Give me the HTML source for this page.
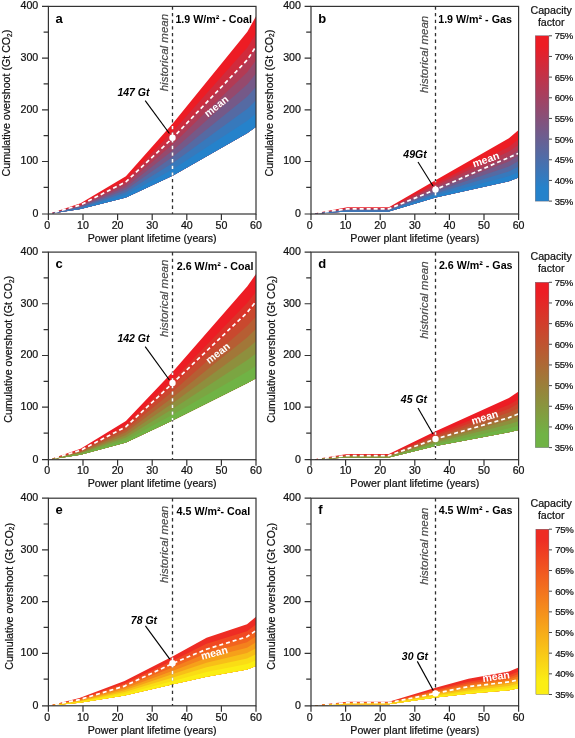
<!DOCTYPE html>
<html><head><meta charset="utf-8"><title>Cumulative overshoot</title>
<style>html,body{margin:0;padding:0;background:#fff;}svg{display:block;will-change:transform;filter:opacity(1);}text{font-family:"Liberation Sans",sans-serif;}</style>
</head><body>
<svg width="575" height="738" viewBox="0 0 575 738">
<rect x="0" y="0" width="575" height="738" fill="#ffffff"/>
<defs>
<linearGradient id="g0" x1="0" y1="0" x2="0" y2="1"><stop offset="0" stop-color="#ed1c24"/><stop offset="0.06" stop-color="#ed1c24"/><stop offset="0.92" stop-color="#2582cb"/><stop offset="1" stop-color="#2582cb"/></linearGradient>
<linearGradient id="g1" x1="0" y1="0" x2="0" y2="1"><stop offset="0" stop-color="#ed1c24"/><stop offset="0.06" stop-color="#ed1c24"/><stop offset="0.92" stop-color="#70b345"/><stop offset="1" stop-color="#70b345"/></linearGradient>
<linearGradient id="g2" x1="0" y1="0" x2="0" y2="1"><stop offset="0" stop-color="#ee2c24"/><stop offset="0.06" stop-color="#ee2c24"/><stop offset="0.92" stop-color="#fbee14"/><stop offset="1" stop-color="#fbee14"/></linearGradient>
</defs>
<g id="panel-a">
<polygon points="48.40,214.00 80.58,203.36 125.90,176.37 172.96,123.17 247.35,31.83 256.00,16.26 256.00,126.81 247.35,133.04 172.96,175.59 125.90,197.39 80.58,209.07 48.40,214.00" fill="#ed1c24"/>
<polygon points="48.40,214.00 80.58,204.25 125.90,179.65 172.96,131.35 247.35,47.62 256.00,33.51 256.00,126.81 247.35,133.04 172.96,175.59 125.90,197.39 80.58,209.07 48.40,214.00" fill="#d02b3c"/>
<polygon points="48.40,214.00 80.58,204.94 125.90,182.19 172.96,137.67 247.35,59.82 256.00,46.84 256.00,126.81 247.35,133.04 172.96,175.59 125.90,197.39 80.58,209.07 48.40,214.00" fill="#b33a54"/>
<polygon points="48.40,214.00 80.58,205.63 125.90,184.72 172.96,143.99 247.35,72.02 256.00,60.16 256.00,126.81 247.35,133.04 172.96,175.59 125.90,197.39 80.58,209.07 48.40,214.00" fill="#95496d"/>
<polygon points="48.40,214.00 80.58,206.32 125.90,187.25 172.96,150.31 247.35,84.23 256.00,73.49 256.00,126.81 247.35,133.04 172.96,175.59 125.90,197.39 80.58,209.07 48.40,214.00" fill="#755988"/>
<polygon points="48.40,214.00 80.58,207.00 125.90,189.79 172.96,156.63 247.35,96.43 256.00,86.82 256.00,126.81 247.35,133.04 172.96,175.59 125.90,197.39 80.58,209.07 48.40,214.00" fill="#556aa3"/>
<polygon points="48.40,214.00 80.58,207.69 125.90,192.32 172.96,162.95 247.35,108.63 256.00,100.15 256.00,126.81 247.35,133.04 172.96,175.59 125.90,197.39 80.58,209.07 48.40,214.00" fill="#3779bc"/>
<polygon points="48.40,214.00 80.58,208.38 125.90,194.86 172.96,169.27 247.35,120.83 256.00,113.48 256.00,126.81 247.35,133.04 172.96,175.59 125.90,197.39 80.58,209.07 48.40,214.00" fill="#2582cb"/>
<line x1="172.50" y1="6.40" x2="172.50" y2="214.00" stroke="#303030" stroke-width="1.3" stroke-dasharray="3.3 3.34"/>
<line x1="172.50" y1="124.17" x2="172.50" y2="175.59" stroke="#fff" stroke-width="1.6" stroke-dasharray="3.3 3.34" stroke-dashoffset="4.89"/>
<polyline points="48.40,214.00 80.58,204.92 125.90,181.82 172.96,137.71 247.35,59.86 256.00,46.36" fill="none" stroke="#fff" stroke-width="1.7" stroke-dasharray="4 3"/>
<rect x="48.40" y="6.40" width="207.60" height="207.60" fill="none" stroke="#333333" stroke-width="1.2"/>
<path d="M42.00 214.00H48.40M43.60 187.37H48.40M42.00 161.51H48.40M43.60 135.65H48.40M42.00 109.79H48.40M43.60 83.93H48.40M42.00 58.07H48.40M43.60 32.21H48.40M42.00 6.35H48.40M48.40 214.00V220.00M83.00 214.00V220.00M117.60 214.00V220.00M152.20 214.00V220.00M186.80 214.00V220.00M221.40 214.00V220.00M256.00 214.00V220.00" stroke="#333333" stroke-width="1.2" fill="none"/>
<circle cx="172.50" cy="137.71" r="3.2" fill="#fff"/>
<line x1="145.2" y1="100.6" x2="169.4" y2="133.5" stroke="#000" stroke-width="1.15"/>
<text x="133.5" y="96.2" font-size="10.5" font-weight="bold" font-style="italic" text-anchor="middle" fill="#000">147 Gt</text>
<text transform="translate(218.5 109) rotate(-38)" font-size="10.5" font-weight="bold" text-anchor="middle" fill="#fff">mean</text>
<text transform="translate(167.70 52.60) rotate(-90)" font-size="11.5" font-style="italic" text-anchor="middle" fill="#4a4a4a" stroke="#4a4a4a" stroke-width="0.2">historical mean</text>
<text x="175.40" y="23.00" font-size="10.7" font-weight="bold" fill="#000">1.9 W/m² - Coal</text>
<text x="55.60" y="22.60" font-size="13" font-weight="bold" fill="#000">a</text>
<text x="38.30" y="216.90" font-size="10.65" text-anchor="end" fill="#111" stroke="#111" stroke-width="0.22">0</text>
<text x="38.30" y="164.41" font-size="10.65" text-anchor="end" fill="#111" stroke="#111" stroke-width="0.22">100</text>
<text x="38.30" y="112.69" font-size="10.65" text-anchor="end" fill="#111" stroke="#111" stroke-width="0.22">200</text>
<text x="38.30" y="60.97" font-size="10.65" text-anchor="end" fill="#111" stroke="#111" stroke-width="0.22">300</text>
<text x="38.30" y="9.25" font-size="10.65" text-anchor="end" fill="#111" stroke="#111" stroke-width="0.22">400</text>
<text x="47.10" y="228.70" font-size="10.65" text-anchor="middle" fill="#111" stroke="#111" stroke-width="0.22">0</text>
<text x="83.00" y="228.70" font-size="10.65" text-anchor="middle" fill="#111" stroke="#111" stroke-width="0.22">10</text>
<text x="117.60" y="228.70" font-size="10.65" text-anchor="middle" fill="#111" stroke="#111" stroke-width="0.22">20</text>
<text x="152.20" y="228.70" font-size="10.65" text-anchor="middle" fill="#111" stroke="#111" stroke-width="0.22">30</text>
<text x="186.80" y="228.70" font-size="10.65" text-anchor="middle" fill="#111" stroke="#111" stroke-width="0.22">40</text>
<text x="221.40" y="228.70" font-size="10.65" text-anchor="middle" fill="#111" stroke="#111" stroke-width="0.22">50</text>
<text x="256.00" y="228.70" font-size="10.65" text-anchor="middle" fill="#111" stroke="#111" stroke-width="0.22">60</text>
<text x="152.20" y="241.70" font-size="10.65" text-anchor="middle" fill="#111" stroke="#111" stroke-width="0.22">Power plant lifetime (years)</text>
<text transform="translate(10.00 103.10) rotate(-90)" font-size="10.65" text-anchor="middle" fill="#111" stroke="#111" stroke-width="0.22">Cumulative overshoot (Gt CO<tspan font-size="6.4" dy="1.6">2</tspan><tspan dy="-1.6">)</tspan></text>
</g>
<g id="panel-b">
<polygon points="311.00,214.00 347.33,207.25 388.85,207.25 435.56,180.26 508.91,138.23 518.60,129.92 518.60,177.41 508.91,181.30 435.56,197.39 388.85,211.41 347.33,211.41 311.00,214.00" fill="#ed1c24"/>
<polygon points="311.00,214.00 347.33,208.06 388.85,208.06 435.56,183.60 508.91,146.63 518.60,139.18 518.60,177.41 508.91,181.30 435.56,197.39 388.85,211.41 347.33,211.41 311.00,214.00" fill="#d02b3c"/>
<polygon points="311.00,214.00 347.33,208.54 388.85,208.54 435.56,185.57 508.91,151.58 518.60,144.64 518.60,177.41 508.91,181.30 435.56,197.39 388.85,211.41 347.33,211.41 311.00,214.00" fill="#b33a54"/>
<polygon points="311.00,214.00 347.33,209.02 388.85,209.02 435.56,187.54 508.91,156.53 518.60,150.10 518.60,177.41 508.91,181.30 435.56,197.39 388.85,211.41 347.33,211.41 311.00,214.00" fill="#95496d"/>
<polygon points="311.00,214.00 347.33,209.50 388.85,209.50 435.56,189.51 508.91,161.49 518.60,155.57 518.60,177.41 508.91,181.30 435.56,197.39 388.85,211.41 347.33,211.41 311.00,214.00" fill="#755988"/>
<polygon points="311.00,214.00 347.33,209.97 388.85,209.97 435.56,191.48 508.91,166.44 518.60,161.03 518.60,177.41 508.91,181.30 435.56,197.39 388.85,211.41 347.33,211.41 311.00,214.00" fill="#556aa3"/>
<polygon points="311.00,214.00 347.33,210.45 388.85,210.45 435.56,193.45 508.91,171.40 518.60,166.49 518.60,177.41 508.91,181.30 435.56,197.39 388.85,211.41 347.33,211.41 311.00,214.00" fill="#3779bc"/>
<polygon points="311.00,214.00 347.33,210.93 388.85,210.93 435.56,195.42 508.91,176.35 518.60,171.95 518.60,177.41 508.91,181.30 435.56,197.39 388.85,211.41 347.33,211.41 311.00,214.00" fill="#2582cb"/>
<line x1="435.50" y1="6.40" x2="435.50" y2="214.00" stroke="#303030" stroke-width="1.3" stroke-dasharray="3.3 3.34"/>
<line x1="435.50" y1="181.26" x2="435.50" y2="197.39" stroke="#fff" stroke-width="1.6" stroke-dasharray="3.3 3.34" stroke-dashoffset="2.22"/>
<polyline points="311.00,214.00 347.33,208.81 388.85,208.81 435.56,189.61 508.91,157.43 518.60,153.28" fill="none" stroke="#fff" stroke-width="1.7" stroke-dasharray="4 3"/>
<rect x="311.00" y="6.40" width="207.60" height="207.60" fill="none" stroke="#333333" stroke-width="1.2"/>
<path d="M304.60 214.00H311.00M306.20 187.37H311.00M304.60 161.51H311.00M306.20 135.65H311.00M304.60 109.79H311.00M306.20 83.93H311.00M304.60 58.07H311.00M306.20 32.21H311.00M304.60 6.35H311.00M311.00 214.00V220.00M345.60 214.00V220.00M380.20 214.00V220.00M414.80 214.00V220.00M449.40 214.00V220.00M484.00 214.00V220.00M518.60 214.00V220.00" stroke="#333333" stroke-width="1.2" fill="none"/>
<circle cx="435.50" cy="189.61" r="3.2" fill="#fff"/>
<line x1="418" y1="162" x2="433" y2="186" stroke="#000" stroke-width="1.15"/>
<text x="415" y="158" font-size="10.5" font-weight="bold" font-style="italic" text-anchor="middle" fill="#000">49Gt</text>
<text transform="translate(487 163) rotate(-19)" font-size="10.5" font-weight="bold" text-anchor="middle" fill="#fff">mean</text>
<text transform="translate(427.70 54.40) rotate(-90)" font-size="11.5" font-style="italic" text-anchor="middle" fill="#4a4a4a" stroke="#4a4a4a" stroke-width="0.2">historical mean</text>
<text x="438.20" y="22.80" font-size="10.7" font-weight="bold" fill="#000">1.9 W/m² - Gas</text>
<text x="318.20" y="22.60" font-size="13" font-weight="bold" fill="#000">b</text>
<text x="300.90" y="216.90" font-size="10.65" text-anchor="end" fill="#111" stroke="#111" stroke-width="0.22">0</text>
<text x="300.90" y="164.41" font-size="10.65" text-anchor="end" fill="#111" stroke="#111" stroke-width="0.22">100</text>
<text x="300.90" y="112.69" font-size="10.65" text-anchor="end" fill="#111" stroke="#111" stroke-width="0.22">200</text>
<text x="300.90" y="60.97" font-size="10.65" text-anchor="end" fill="#111" stroke="#111" stroke-width="0.22">300</text>
<text x="300.90" y="9.25" font-size="10.65" text-anchor="end" fill="#111" stroke="#111" stroke-width="0.22">400</text>
<text x="309.70" y="228.70" font-size="10.65" text-anchor="middle" fill="#111" stroke="#111" stroke-width="0.22">0</text>
<text x="345.60" y="228.70" font-size="10.65" text-anchor="middle" fill="#111" stroke="#111" stroke-width="0.22">10</text>
<text x="380.20" y="228.70" font-size="10.65" text-anchor="middle" fill="#111" stroke="#111" stroke-width="0.22">20</text>
<text x="414.80" y="228.70" font-size="10.65" text-anchor="middle" fill="#111" stroke="#111" stroke-width="0.22">30</text>
<text x="449.40" y="228.70" font-size="10.65" text-anchor="middle" fill="#111" stroke="#111" stroke-width="0.22">40</text>
<text x="484.00" y="228.70" font-size="10.65" text-anchor="middle" fill="#111" stroke="#111" stroke-width="0.22">50</text>
<text x="518.60" y="228.70" font-size="10.65" text-anchor="middle" fill="#111" stroke="#111" stroke-width="0.22">60</text>
<text x="414.80" y="241.70" font-size="10.65" text-anchor="middle" fill="#111" stroke="#111" stroke-width="0.22">Power plant lifetime (years)</text>
<text transform="translate(272.60 103.10) rotate(-90)" font-size="10.65" text-anchor="middle" fill="#111" stroke="#111" stroke-width="0.22">Cumulative overshoot (Gt CO<tspan font-size="6.4" dy="1.6">2</tspan><tspan dy="-1.6">)</tspan></text>
</g>
<g id="panel-c">
<polygon points="48.40,459.70 80.58,448.80 125.90,421.03 172.96,371.47 247.35,286.35 256.00,273.90 256.00,378.22 247.35,382.89 172.96,420.26 125.90,442.57 80.58,454.77 48.40,459.70" fill="#ed1c24"/>
<polygon points="48.40,459.70 80.58,449.82 125.90,424.72 172.96,379.81 247.35,302.86 256.00,291.74 256.00,378.22 247.35,382.89 172.96,420.26 125.90,442.57 80.58,454.77 48.40,459.70" fill="#db3229"/>
<polygon points="48.40,459.70 80.58,450.53 125.90,427.27 172.96,385.59 247.35,314.29 256.00,304.09 256.00,378.22 247.35,382.89 172.96,420.26 125.90,442.57 80.58,454.77 48.40,459.70" fill="#c9482e"/>
<polygon points="48.40,459.70 80.58,451.24 125.90,429.82 172.96,391.37 247.35,325.73 256.00,316.45 256.00,378.22 247.35,382.89 172.96,420.26 125.90,442.57 80.58,454.77 48.40,459.70" fill="#b65e33"/>
<polygon points="48.40,459.70 80.58,451.94 125.90,432.37 172.96,397.15 247.35,337.16 256.00,328.80 256.00,378.22 247.35,382.89 172.96,420.26 125.90,442.57 80.58,454.77 48.40,459.70" fill="#a27738"/>
<polygon points="48.40,459.70 80.58,452.65 125.90,434.92 172.96,402.92 247.35,348.59 256.00,341.15 256.00,378.22 247.35,382.89 172.96,420.26 125.90,442.57 80.58,454.77 48.40,459.70" fill="#8e8f3d"/>
<polygon points="48.40,459.70 80.58,453.36 125.90,437.47 172.96,408.70 247.35,360.02 256.00,353.51 256.00,378.22 247.35,382.89 172.96,420.26 125.90,442.57 80.58,454.77 48.40,459.70" fill="#7ba542"/>
<polygon points="48.40,459.70 80.58,454.06 125.90,440.02 172.96,414.48 247.35,371.46 256.00,365.86 256.00,378.22 247.35,382.89 172.96,420.26 125.90,442.57 80.58,454.77 48.40,459.70" fill="#70b345"/>
<line x1="172.50" y1="252.10" x2="172.50" y2="459.70" stroke="#303030" stroke-width="1.3" stroke-dasharray="3.3 3.34"/>
<line x1="172.50" y1="372.47" x2="172.50" y2="420.26" stroke="#fff" stroke-width="1.6" stroke-dasharray="3.3 3.34" stroke-dashoffset="0.85"/>
<polyline points="48.40,459.70 80.58,450.36 125.90,426.74 172.96,382.89 247.35,312.30 256.00,301.40" fill="none" stroke="#fff" stroke-width="1.7" stroke-dasharray="4 3"/>
<rect x="48.40" y="252.10" width="207.60" height="207.60" fill="none" stroke="#333333" stroke-width="1.2"/>
<path d="M42.00 459.70H48.40M43.60 433.07H48.40M42.00 407.21H48.40M43.60 381.35H48.40M42.00 355.49H48.40M43.60 329.63H48.40M42.00 303.77H48.40M43.60 277.91H48.40M42.00 252.05H48.40M48.40 459.70V465.70M83.00 459.70V465.70M117.60 459.70V465.70M152.20 459.70V465.70M186.80 459.70V465.70M221.40 459.70V465.70M256.00 459.70V465.70" stroke="#333333" stroke-width="1.2" fill="none"/>
<circle cx="172.50" cy="382.89" r="3.2" fill="#fff"/>
<line x1="145.2" y1="346.6" x2="169.4" y2="380" stroke="#000" stroke-width="1.15"/>
<text x="133.5" y="342.2" font-size="10.5" font-weight="bold" font-style="italic" text-anchor="middle" fill="#000">142 Gt</text>
<text transform="translate(220 355.9) rotate(-38)" font-size="10.5" font-weight="bold" text-anchor="middle" fill="#fff">mean</text>
<text transform="translate(167.70 298.30) rotate(-90)" font-size="11.5" font-style="italic" text-anchor="middle" fill="#4a4a4a" stroke="#4a4a4a" stroke-width="0.2">historical mean</text>
<text x="176.80" y="270.30" font-size="10.7" font-weight="bold" fill="#000">2.6 W/m² - Coal</text>
<text x="55.60" y="268.30" font-size="13" font-weight="bold" fill="#000">c</text>
<text x="38.30" y="462.60" font-size="10.65" text-anchor="end" fill="#111" stroke="#111" stroke-width="0.22">0</text>
<text x="38.30" y="410.11" font-size="10.65" text-anchor="end" fill="#111" stroke="#111" stroke-width="0.22">100</text>
<text x="38.30" y="358.39" font-size="10.65" text-anchor="end" fill="#111" stroke="#111" stroke-width="0.22">200</text>
<text x="38.30" y="306.67" font-size="10.65" text-anchor="end" fill="#111" stroke="#111" stroke-width="0.22">300</text>
<text x="38.30" y="254.95" font-size="10.65" text-anchor="end" fill="#111" stroke="#111" stroke-width="0.22">400</text>
<text x="47.10" y="474.40" font-size="10.65" text-anchor="middle" fill="#111" stroke="#111" stroke-width="0.22">0</text>
<text x="83.00" y="474.40" font-size="10.65" text-anchor="middle" fill="#111" stroke="#111" stroke-width="0.22">10</text>
<text x="117.60" y="474.40" font-size="10.65" text-anchor="middle" fill="#111" stroke="#111" stroke-width="0.22">20</text>
<text x="152.20" y="474.40" font-size="10.65" text-anchor="middle" fill="#111" stroke="#111" stroke-width="0.22">30</text>
<text x="186.80" y="474.40" font-size="10.65" text-anchor="middle" fill="#111" stroke="#111" stroke-width="0.22">40</text>
<text x="221.40" y="474.40" font-size="10.65" text-anchor="middle" fill="#111" stroke="#111" stroke-width="0.22">50</text>
<text x="256.00" y="474.40" font-size="10.65" text-anchor="middle" fill="#111" stroke="#111" stroke-width="0.22">60</text>
<text x="152.20" y="487.40" font-size="10.65" text-anchor="middle" fill="#111" stroke="#111" stroke-width="0.22">Power plant lifetime (years)</text>
<text transform="translate(12.30 349.30) rotate(-90)" font-size="10.65" text-anchor="middle" fill="#111" stroke="#111" stroke-width="0.22">Cumulative overshoot (Gt CO<tspan font-size="6.4" dy="1.6">2</tspan><tspan dy="-1.6">)</tspan></text>
</g>
<g id="panel-d">
<polygon points="311.00,459.70 347.33,453.99 388.85,453.99 435.56,431.15 508.91,397.94 518.60,391.45 518.60,430.12 508.91,432.19 435.56,445.95 388.85,457.62 347.33,457.62 311.00,459.70" fill="#ed1c24"/>
<polygon points="311.00,459.70 347.33,454.72 388.85,454.72 435.56,434.11 508.91,404.79 518.60,399.18 518.60,430.12 508.91,432.19 435.56,445.95 388.85,457.62 347.33,457.62 311.00,459.70" fill="#db3229"/>
<polygon points="311.00,459.70 347.33,455.13 388.85,455.13 435.56,435.80 508.91,408.70 518.60,403.60 518.60,430.12 508.91,432.19 435.56,445.95 388.85,457.62 347.33,457.62 311.00,459.70" fill="#c9482e"/>
<polygon points="311.00,459.70 347.33,455.55 388.85,455.55 435.56,437.49 508.91,412.62 518.60,408.02 518.60,430.12 508.91,432.19 435.56,445.95 388.85,457.62 347.33,457.62 311.00,459.70" fill="#b65e33"/>
<polygon points="311.00,459.70 347.33,455.96 388.85,455.96 435.56,439.18 508.91,416.53 518.60,412.44 518.60,430.12 508.91,432.19 435.56,445.95 388.85,457.62 347.33,457.62 311.00,459.70" fill="#a27738"/>
<polygon points="311.00,459.70 347.33,456.38 388.85,456.38 435.56,440.88 508.91,420.45 518.60,416.86 518.60,430.12 508.91,432.19 435.56,445.95 388.85,457.62 347.33,457.62 311.00,459.70" fill="#8e8f3d"/>
<polygon points="311.00,459.70 347.33,456.79 388.85,456.79 435.56,442.57 508.91,424.36 518.60,421.28 518.60,430.12 508.91,432.19 435.56,445.95 388.85,457.62 347.33,457.62 311.00,459.70" fill="#7ba542"/>
<polygon points="311.00,459.70 347.33,457.21 388.85,457.21 435.56,444.26 508.91,428.28 518.60,425.70 518.60,430.12 508.91,432.19 435.56,445.95 388.85,457.62 347.33,457.62 311.00,459.70" fill="#70b345"/>
<line x1="435.50" y1="252.10" x2="435.50" y2="459.70" stroke="#303030" stroke-width="1.3" stroke-dasharray="3.3 3.34"/>
<line x1="435.50" y1="432.15" x2="435.50" y2="445.95" stroke="#fff" stroke-width="1.6" stroke-dasharray="3.3 3.34" stroke-dashoffset="0.77"/>
<polyline points="311.00,459.70 347.33,455.55 388.85,455.55 435.56,438.94 508.91,417.66 518.60,413.77" fill="none" stroke="#fff" stroke-width="1.7" stroke-dasharray="4 3"/>
<rect x="311.00" y="252.10" width="207.60" height="207.60" fill="none" stroke="#333333" stroke-width="1.2"/>
<path d="M304.60 459.70H311.00M306.20 433.07H311.00M304.60 407.21H311.00M306.20 381.35H311.00M304.60 355.49H311.00M306.20 329.63H311.00M304.60 303.77H311.00M306.20 277.91H311.00M304.60 252.05H311.00M311.00 459.70V465.70M345.60 459.70V465.70M380.20 459.70V465.70M414.80 459.70V465.70M449.40 459.70V465.70M484.00 459.70V465.70M518.60 459.70V465.70" stroke="#333333" stroke-width="1.2" fill="none"/>
<circle cx="435.50" cy="438.94" r="3.2" fill="#fff"/>
<line x1="418" y1="408" x2="433" y2="434" stroke="#000" stroke-width="1.15"/>
<text x="414" y="402.5" font-size="10.5" font-weight="bold" font-style="italic" text-anchor="middle" fill="#000">45 Gt</text>
<text transform="translate(485.8 420.8) rotate(-17)" font-size="10.5" font-weight="bold" text-anchor="middle" fill="#fff">mean</text>
<text transform="translate(427.70 300.10) rotate(-90)" font-size="11.5" font-style="italic" text-anchor="middle" fill="#4a4a4a" stroke="#4a4a4a" stroke-width="0.2">historical mean</text>
<text x="438.90" y="268.70" font-size="10.7" font-weight="bold" fill="#000">2.6 W/m² - Gas</text>
<text x="318.20" y="268.30" font-size="13" font-weight="bold" fill="#000">d</text>
<text x="300.90" y="462.60" font-size="10.65" text-anchor="end" fill="#111" stroke="#111" stroke-width="0.22">0</text>
<text x="300.90" y="410.11" font-size="10.65" text-anchor="end" fill="#111" stroke="#111" stroke-width="0.22">100</text>
<text x="300.90" y="358.39" font-size="10.65" text-anchor="end" fill="#111" stroke="#111" stroke-width="0.22">200</text>
<text x="300.90" y="306.67" font-size="10.65" text-anchor="end" fill="#111" stroke="#111" stroke-width="0.22">300</text>
<text x="300.90" y="254.95" font-size="10.65" text-anchor="end" fill="#111" stroke="#111" stroke-width="0.22">400</text>
<text x="309.70" y="474.40" font-size="10.65" text-anchor="middle" fill="#111" stroke="#111" stroke-width="0.22">0</text>
<text x="345.60" y="474.40" font-size="10.65" text-anchor="middle" fill="#111" stroke="#111" stroke-width="0.22">10</text>
<text x="380.20" y="474.40" font-size="10.65" text-anchor="middle" fill="#111" stroke="#111" stroke-width="0.22">20</text>
<text x="414.80" y="474.40" font-size="10.65" text-anchor="middle" fill="#111" stroke="#111" stroke-width="0.22">30</text>
<text x="449.40" y="474.40" font-size="10.65" text-anchor="middle" fill="#111" stroke="#111" stroke-width="0.22">40</text>
<text x="484.00" y="474.40" font-size="10.65" text-anchor="middle" fill="#111" stroke="#111" stroke-width="0.22">50</text>
<text x="518.60" y="474.40" font-size="10.65" text-anchor="middle" fill="#111" stroke="#111" stroke-width="0.22">60</text>
<text x="414.80" y="487.40" font-size="10.65" text-anchor="middle" fill="#111" stroke="#111" stroke-width="0.22">Power plant lifetime (years)</text>
<text transform="translate(274.90 349.30) rotate(-90)" font-size="10.65" text-anchor="middle" fill="#111" stroke="#111" stroke-width="0.22">Cumulative overshoot (Gt CO<tspan font-size="6.4" dy="1.6">2</tspan><tspan dy="-1.6">)</tspan></text>
</g>
<g id="panel-e">
<polygon points="48.40,705.80 79.54,698.01 124.52,680.89 172.96,656.24 206.52,637.81 247.00,624.32 256.00,616.79 256.00,666.10 247.00,669.47 206.52,676.74 172.96,684.26 124.52,695.42 79.54,702.69 48.40,705.80" fill="#ee2c24"/>
<polygon points="48.40,705.80 79.54,698.74 124.52,683.14 172.96,660.58 206.52,643.84 247.00,631.32 256.00,624.43 256.00,666.10 247.00,669.47 206.52,676.74 172.96,684.26 124.52,695.42 79.54,702.69 48.40,705.80" fill="#f04822"/>
<polygon points="48.40,705.80 79.54,699.30 124.52,684.89 172.96,663.96 206.52,648.54 247.00,636.77 256.00,630.39 256.00,666.10 247.00,669.47 206.52,676.74 172.96,684.26 124.52,695.42 79.54,702.69 48.40,705.80" fill="#f2641f"/>
<polygon points="48.40,705.80 79.54,699.87 124.52,686.65 172.96,667.35 206.52,653.24 247.00,642.22 256.00,636.34 256.00,666.10 247.00,669.47 206.52,676.74 172.96,684.26 124.52,695.42 79.54,702.69 48.40,705.80" fill="#f4811d"/>
<polygon points="48.40,705.80 79.54,700.43 124.52,688.40 172.96,670.73 206.52,657.94 247.00,647.67 256.00,642.29 256.00,666.10 247.00,669.47 206.52,676.74 172.96,684.26 124.52,695.42 79.54,702.69 48.40,705.80" fill="#f6a01a"/>
<polygon points="48.40,705.80 79.54,700.99 124.52,690.16 172.96,674.11 206.52,662.64 247.00,653.12 256.00,648.24 256.00,666.10 247.00,669.47 206.52,676.74 172.96,684.26 124.52,695.42 79.54,702.69 48.40,705.80" fill="#f8bf18"/>
<polygon points="48.40,705.80 79.54,701.56 124.52,691.91 172.96,677.50 206.52,667.34 247.00,658.57 256.00,654.19 256.00,666.10 247.00,669.47 206.52,676.74 172.96,684.26 124.52,695.42 79.54,702.69 48.40,705.80" fill="#fadd15"/>
<polygon points="48.40,705.80 79.54,702.12 124.52,693.67 172.96,680.88 206.52,672.04 247.00,664.02 256.00,660.14 256.00,666.10 247.00,669.47 206.52,676.74 172.96,684.26 124.52,695.42 79.54,702.69 48.40,705.80" fill="#fbee14"/>
<line x1="172.50" y1="498.20" x2="172.50" y2="705.80" stroke="#303030" stroke-width="1.3" stroke-dasharray="3.3 3.34"/>
<line x1="172.50" y1="657.24" x2="172.50" y2="684.26" stroke="#fff" stroke-width="1.6" stroke-dasharray="3.3 3.34" stroke-dashoffset="6.32"/>
<polyline points="48.40,705.80 79.54,699.57 124.52,686.08 172.96,663.24 206.52,649.23 247.00,636.77 256.00,630.54" fill="none" stroke="#fff" stroke-width="1.7" stroke-dasharray="4 3"/>
<rect x="48.40" y="498.20" width="207.60" height="207.60" fill="none" stroke="#333333" stroke-width="1.2"/>
<path d="M42.00 705.80H48.40M43.60 679.17H48.40M42.00 653.31H48.40M43.60 627.45H48.40M42.00 601.59H48.40M43.60 575.73H48.40M42.00 549.87H48.40M43.60 524.01H48.40M42.00 498.15H48.40M48.40 705.80V711.80M83.00 705.80V711.80M117.60 705.80V711.80M152.20 705.80V711.80M186.80 705.80V711.80M221.40 705.80V711.80M256.00 705.80V711.80" stroke="#333333" stroke-width="1.2" fill="none"/>
<circle cx="172.50" cy="663.24" r="3.2" fill="#fff"/>
<line x1="145.4" y1="625.9" x2="169.8" y2="659.2" stroke="#000" stroke-width="1.15"/>
<text x="144" y="623.5" font-size="10.5" font-weight="bold" font-style="italic" text-anchor="middle" fill="#000">78 Gt</text>
<text transform="translate(215.2 656.4) rotate(-14.5)" font-size="10.5" font-weight="bold" text-anchor="middle" fill="#fff">mean</text>
<text transform="translate(167.70 544.40) rotate(-90)" font-size="11.5" font-style="italic" text-anchor="middle" fill="#4a4a4a" stroke="#4a4a4a" stroke-width="0.2">historical mean</text>
<text x="176.60" y="514.80" font-size="10.7" font-weight="bold" fill="#000">4.5 W/m²- Coal</text>
<text x="55.60" y="514.40" font-size="13" font-weight="bold" fill="#000">e</text>
<text x="38.30" y="708.70" font-size="10.65" text-anchor="end" fill="#111" stroke="#111" stroke-width="0.22">0</text>
<text x="38.30" y="656.21" font-size="10.65" text-anchor="end" fill="#111" stroke="#111" stroke-width="0.22">100</text>
<text x="38.30" y="604.49" font-size="10.65" text-anchor="end" fill="#111" stroke="#111" stroke-width="0.22">200</text>
<text x="38.30" y="552.77" font-size="10.65" text-anchor="end" fill="#111" stroke="#111" stroke-width="0.22">300</text>
<text x="38.30" y="501.05" font-size="10.65" text-anchor="end" fill="#111" stroke="#111" stroke-width="0.22">400</text>
<text x="47.10" y="720.50" font-size="10.65" text-anchor="middle" fill="#111" stroke="#111" stroke-width="0.22">0</text>
<text x="83.00" y="720.50" font-size="10.65" text-anchor="middle" fill="#111" stroke="#111" stroke-width="0.22">10</text>
<text x="117.60" y="720.50" font-size="10.65" text-anchor="middle" fill="#111" stroke="#111" stroke-width="0.22">20</text>
<text x="152.20" y="720.50" font-size="10.65" text-anchor="middle" fill="#111" stroke="#111" stroke-width="0.22">30</text>
<text x="186.80" y="720.50" font-size="10.65" text-anchor="middle" fill="#111" stroke="#111" stroke-width="0.22">40</text>
<text x="221.40" y="720.50" font-size="10.65" text-anchor="middle" fill="#111" stroke="#111" stroke-width="0.22">50</text>
<text x="256.00" y="720.50" font-size="10.65" text-anchor="middle" fill="#111" stroke="#111" stroke-width="0.22">60</text>
<text x="152.20" y="733.50" font-size="10.65" text-anchor="middle" fill="#111" stroke="#111" stroke-width="0.22">Power plant lifetime (years)</text>
<text transform="translate(12.70 596.40) rotate(-90)" font-size="10.65" text-anchor="middle" fill="#111" stroke="#111" stroke-width="0.22">Cumulative overshoot (Gt CO<tspan font-size="6.4" dy="1.6">2</tspan><tspan dy="-1.6">)</tspan></text>
</g>
<g id="panel-f">
<polygon points="311.00,705.80 347.33,701.65 388.85,701.65 435.56,687.63 468.43,678.81 508.91,671.55 518.60,667.39 518.60,688.15 508.91,690.23 468.43,693.86 435.56,697.50 388.85,704.24 347.33,704.24 311.00,705.80" fill="#ee2c24"/>
<polygon points="311.00,705.80 347.33,702.17 388.85,702.17 435.56,689.61 468.43,681.82 508.91,675.28 518.60,671.55 518.60,688.15 508.91,690.23 468.43,693.86 435.56,697.50 388.85,704.24 347.33,704.24 311.00,705.80" fill="#f04822"/>
<polygon points="311.00,705.80 347.33,702.46 388.85,702.46 435.56,690.73 468.43,683.54 508.91,677.42 518.60,673.92 518.60,688.15 508.91,690.23 468.43,693.86 435.56,697.50 388.85,704.24 347.33,704.24 311.00,705.80" fill="#f2641f"/>
<polygon points="311.00,705.80 347.33,702.76 388.85,702.76 435.56,691.86 468.43,685.26 508.91,679.55 518.60,676.29 518.60,688.15 508.91,690.23 468.43,693.86 435.56,697.50 388.85,704.24 347.33,704.24 311.00,705.80" fill="#f4811d"/>
<polygon points="311.00,705.80 347.33,703.06 388.85,703.06 435.56,692.99 468.43,686.98 508.91,681.69 518.60,678.66 518.60,688.15 508.91,690.23 468.43,693.86 435.56,697.50 388.85,704.24 347.33,704.24 311.00,705.80" fill="#f6a01a"/>
<polygon points="311.00,705.80 347.33,703.35 388.85,703.35 435.56,694.12 468.43,688.70 508.91,683.82 518.60,681.04 518.60,688.15 508.91,690.23 468.43,693.86 435.56,697.50 388.85,704.24 347.33,704.24 311.00,705.80" fill="#f8bf18"/>
<polygon points="311.00,705.80 347.33,703.65 388.85,703.65 435.56,695.24 468.43,690.42 508.91,685.96 518.60,683.41 518.60,688.15 508.91,690.23 468.43,693.86 435.56,697.50 388.85,704.24 347.33,704.24 311.00,705.80" fill="#fadd15"/>
<polygon points="311.00,705.80 347.33,703.95 388.85,703.95 435.56,696.37 468.43,692.14 508.91,688.09 518.60,685.78 518.60,688.15 508.91,690.23 468.43,693.86 435.56,697.50 388.85,704.24 347.33,704.24 311.00,705.80" fill="#fbee14"/>
<line x1="435.50" y1="498.20" x2="435.50" y2="705.80" stroke="#303030" stroke-width="1.3" stroke-dasharray="3.3 3.34"/>
<line x1="435.50" y1="688.63" x2="435.50" y2="697.50" stroke="#fff" stroke-width="1.6" stroke-dasharray="3.3 3.34" stroke-dashoffset="4.52"/>
<polyline points="311.00,705.80 347.33,702.69 388.85,702.69 435.56,693.34 468.43,686.60 508.91,681.93 518.60,679.85" fill="none" stroke="#fff" stroke-width="1.7" stroke-dasharray="4 3"/>
<rect x="311.00" y="498.20" width="207.60" height="207.60" fill="none" stroke="#333333" stroke-width="1.2"/>
<path d="M304.60 705.80H311.00M306.20 679.17H311.00M304.60 653.31H311.00M306.20 627.45H311.00M304.60 601.59H311.00M306.20 575.73H311.00M304.60 549.87H311.00M306.20 524.01H311.00M304.60 498.15H311.00M311.00 705.80V711.80M345.60 705.80V711.80M380.20 705.80V711.80M414.80 705.80V711.80M449.40 705.80V711.80M484.00 705.80V711.80M518.60 705.80V711.80" stroke="#333333" stroke-width="1.2" fill="none"/>
<circle cx="435.50" cy="693.34" r="3.2" fill="#fff"/>
<line x1="417.3" y1="661.4" x2="433.3" y2="690.5" stroke="#000" stroke-width="1.15"/>
<text x="415" y="659.5" font-size="10.5" font-weight="bold" font-style="italic" text-anchor="middle" fill="#000">30 Gt</text>
<text transform="translate(496.6 680) rotate(-8)" font-size="10.5" font-weight="bold" text-anchor="middle" fill="#fff">mean</text>
<text transform="translate(427.70 546.20) rotate(-90)" font-size="11.5" font-style="italic" text-anchor="middle" fill="#4a4a4a" stroke="#4a4a4a" stroke-width="0.2">historical mean</text>
<text x="438.70" y="514.30" font-size="10.7" font-weight="bold" fill="#000">4.5 W/m² - Gas</text>
<text x="318.20" y="514.40" font-size="13" font-weight="bold" fill="#000">f</text>
<text x="300.90" y="708.70" font-size="10.65" text-anchor="end" fill="#111" stroke="#111" stroke-width="0.22">0</text>
<text x="300.90" y="656.21" font-size="10.65" text-anchor="end" fill="#111" stroke="#111" stroke-width="0.22">100</text>
<text x="300.90" y="604.49" font-size="10.65" text-anchor="end" fill="#111" stroke="#111" stroke-width="0.22">200</text>
<text x="300.90" y="552.77" font-size="10.65" text-anchor="end" fill="#111" stroke="#111" stroke-width="0.22">300</text>
<text x="300.90" y="501.05" font-size="10.65" text-anchor="end" fill="#111" stroke="#111" stroke-width="0.22">400</text>
<text x="309.70" y="720.50" font-size="10.65" text-anchor="middle" fill="#111" stroke="#111" stroke-width="0.22">0</text>
<text x="345.60" y="720.50" font-size="10.65" text-anchor="middle" fill="#111" stroke="#111" stroke-width="0.22">10</text>
<text x="380.20" y="720.50" font-size="10.65" text-anchor="middle" fill="#111" stroke="#111" stroke-width="0.22">20</text>
<text x="414.80" y="720.50" font-size="10.65" text-anchor="middle" fill="#111" stroke="#111" stroke-width="0.22">30</text>
<text x="449.40" y="720.50" font-size="10.65" text-anchor="middle" fill="#111" stroke="#111" stroke-width="0.22">40</text>
<text x="484.00" y="720.50" font-size="10.65" text-anchor="middle" fill="#111" stroke="#111" stroke-width="0.22">50</text>
<text x="518.60" y="720.50" font-size="10.65" text-anchor="middle" fill="#111" stroke="#111" stroke-width="0.22">60</text>
<text x="414.80" y="733.50" font-size="10.65" text-anchor="middle" fill="#111" stroke="#111" stroke-width="0.22">Power plant lifetime (years)</text>
<text transform="translate(275.30 596.40) rotate(-90)" font-size="10.65" text-anchor="middle" fill="#111" stroke="#111" stroke-width="0.22">Cumulative overshoot (Gt CO<tspan font-size="6.4" dy="1.6">2</tspan><tspan dy="-1.6">)</tspan></text>
</g>
<g id="cbar-0">
<rect x="535.3" y="35.80" width="13.60" height="165.30" fill="url(#g0)" stroke="#556" stroke-width="0.4"/>
<line x1="549" y1="35.80" x2="552" y2="35.80" stroke="#333333" stroke-width="0.9"/>
<text x="554.8" y="39.20" font-size="9.6" letter-spacing="-0.35" fill="#111" stroke="#111" stroke-width="0.22">75%</text>
<line x1="549" y1="56.46" x2="552" y2="56.46" stroke="#333333" stroke-width="0.9"/>
<text x="554.8" y="59.86" font-size="9.6" letter-spacing="-0.35" fill="#111" stroke="#111" stroke-width="0.22">70%</text>
<line x1="549" y1="77.12" x2="552" y2="77.12" stroke="#333333" stroke-width="0.9"/>
<text x="554.8" y="80.53" font-size="9.6" letter-spacing="-0.35" fill="#111" stroke="#111" stroke-width="0.22">65%</text>
<line x1="549" y1="97.79" x2="552" y2="97.79" stroke="#333333" stroke-width="0.9"/>
<text x="554.8" y="101.19" font-size="9.6" letter-spacing="-0.35" fill="#111" stroke="#111" stroke-width="0.22">60%</text>
<line x1="549" y1="118.45" x2="552" y2="118.45" stroke="#333333" stroke-width="0.9"/>
<text x="554.8" y="121.85" font-size="9.6" letter-spacing="-0.35" fill="#111" stroke="#111" stroke-width="0.22">55%</text>
<line x1="549" y1="139.11" x2="552" y2="139.11" stroke="#333333" stroke-width="0.9"/>
<text x="554.8" y="142.51" font-size="9.6" letter-spacing="-0.35" fill="#111" stroke="#111" stroke-width="0.22">50%</text>
<line x1="549" y1="159.78" x2="552" y2="159.78" stroke="#333333" stroke-width="0.9"/>
<text x="554.8" y="163.18" font-size="9.6" letter-spacing="-0.35" fill="#111" stroke="#111" stroke-width="0.22">45%</text>
<line x1="549" y1="180.44" x2="552" y2="180.44" stroke="#333333" stroke-width="0.9"/>
<text x="554.8" y="183.84" font-size="9.6" letter-spacing="-0.35" fill="#111" stroke="#111" stroke-width="0.22">40%</text>
<line x1="549" y1="201.10" x2="552" y2="201.10" stroke="#333333" stroke-width="0.9"/>
<text x="554.8" y="204.50" font-size="9.6" letter-spacing="-0.35" fill="#111" stroke="#111" stroke-width="0.22">35%</text>
<text x="551.2" y="14.00" font-size="10.65" text-anchor="middle" fill="#111" stroke="#111" stroke-width="0.22">Capacity</text>
<text x="551.2" y="26.40" font-size="10.65" text-anchor="middle" fill="#111" stroke="#111" stroke-width="0.22">factor</text>
</g>
<g id="cbar-1">
<rect x="535.3" y="282.30" width="13.60" height="165.30" fill="url(#g1)" stroke="#556" stroke-width="0.4"/>
<line x1="549" y1="282.30" x2="552" y2="282.30" stroke="#333333" stroke-width="0.9"/>
<text x="554.8" y="285.70" font-size="9.6" letter-spacing="-0.35" fill="#111" stroke="#111" stroke-width="0.22">75%</text>
<line x1="549" y1="302.96" x2="552" y2="302.96" stroke="#333333" stroke-width="0.9"/>
<text x="554.8" y="306.36" font-size="9.6" letter-spacing="-0.35" fill="#111" stroke="#111" stroke-width="0.22">70%</text>
<line x1="549" y1="323.62" x2="552" y2="323.62" stroke="#333333" stroke-width="0.9"/>
<text x="554.8" y="327.02" font-size="9.6" letter-spacing="-0.35" fill="#111" stroke="#111" stroke-width="0.22">65%</text>
<line x1="549" y1="344.29" x2="552" y2="344.29" stroke="#333333" stroke-width="0.9"/>
<text x="554.8" y="347.69" font-size="9.6" letter-spacing="-0.35" fill="#111" stroke="#111" stroke-width="0.22">60%</text>
<line x1="549" y1="364.95" x2="552" y2="364.95" stroke="#333333" stroke-width="0.9"/>
<text x="554.8" y="368.35" font-size="9.6" letter-spacing="-0.35" fill="#111" stroke="#111" stroke-width="0.22">55%</text>
<line x1="549" y1="385.61" x2="552" y2="385.61" stroke="#333333" stroke-width="0.9"/>
<text x="554.8" y="389.01" font-size="9.6" letter-spacing="-0.35" fill="#111" stroke="#111" stroke-width="0.22">50%</text>
<line x1="549" y1="406.28" x2="552" y2="406.28" stroke="#333333" stroke-width="0.9"/>
<text x="554.8" y="409.68" font-size="9.6" letter-spacing="-0.35" fill="#111" stroke="#111" stroke-width="0.22">45%</text>
<line x1="549" y1="426.94" x2="552" y2="426.94" stroke="#333333" stroke-width="0.9"/>
<text x="554.8" y="430.34" font-size="9.6" letter-spacing="-0.35" fill="#111" stroke="#111" stroke-width="0.22">40%</text>
<line x1="549" y1="447.60" x2="552" y2="447.60" stroke="#333333" stroke-width="0.9"/>
<text x="554.8" y="451.00" font-size="9.6" letter-spacing="-0.35" fill="#111" stroke="#111" stroke-width="0.22">35%</text>
<text x="551.2" y="259.90" font-size="10.65" text-anchor="middle" fill="#111" stroke="#111" stroke-width="0.22">Capacity</text>
<text x="551.2" y="272.30" font-size="10.65" text-anchor="middle" fill="#111" stroke="#111" stroke-width="0.22">factor</text>
</g>
<g id="cbar-2">
<rect x="535.9" y="529.20" width="13.00" height="165.30" fill="url(#g2)" stroke="#556" stroke-width="0.4"/>
<line x1="549" y1="529.20" x2="552" y2="529.20" stroke="#333333" stroke-width="0.9"/>
<text x="555.3" y="532.60" font-size="9.6" letter-spacing="-0.35" fill="#111" stroke="#111" stroke-width="0.22">75%</text>
<line x1="549" y1="549.86" x2="552" y2="549.86" stroke="#333333" stroke-width="0.9"/>
<text x="555.3" y="553.26" font-size="9.6" letter-spacing="-0.35" fill="#111" stroke="#111" stroke-width="0.22">70%</text>
<line x1="549" y1="570.53" x2="552" y2="570.53" stroke="#333333" stroke-width="0.9"/>
<text x="555.3" y="573.93" font-size="9.6" letter-spacing="-0.35" fill="#111" stroke="#111" stroke-width="0.22">65%</text>
<line x1="549" y1="591.19" x2="552" y2="591.19" stroke="#333333" stroke-width="0.9"/>
<text x="555.3" y="594.59" font-size="9.6" letter-spacing="-0.35" fill="#111" stroke="#111" stroke-width="0.22">60%</text>
<line x1="549" y1="611.85" x2="552" y2="611.85" stroke="#333333" stroke-width="0.9"/>
<text x="555.3" y="615.25" font-size="9.6" letter-spacing="-0.35" fill="#111" stroke="#111" stroke-width="0.22">55%</text>
<line x1="549" y1="632.51" x2="552" y2="632.51" stroke="#333333" stroke-width="0.9"/>
<text x="555.3" y="635.91" font-size="9.6" letter-spacing="-0.35" fill="#111" stroke="#111" stroke-width="0.22">50%</text>
<line x1="549" y1="653.17" x2="552" y2="653.17" stroke="#333333" stroke-width="0.9"/>
<text x="555.3" y="656.57" font-size="9.6" letter-spacing="-0.35" fill="#111" stroke="#111" stroke-width="0.22">45%</text>
<line x1="549" y1="673.84" x2="552" y2="673.84" stroke="#333333" stroke-width="0.9"/>
<text x="555.3" y="677.24" font-size="9.6" letter-spacing="-0.35" fill="#111" stroke="#111" stroke-width="0.22">40%</text>
<line x1="549" y1="694.50" x2="552" y2="694.50" stroke="#333333" stroke-width="0.9"/>
<text x="555.3" y="697.90" font-size="9.6" letter-spacing="-0.35" fill="#111" stroke="#111" stroke-width="0.22">35%</text>
<text x="551.2" y="506.90" font-size="10.65" text-anchor="middle" fill="#111" stroke="#111" stroke-width="0.22">Capacity</text>
<text x="551.2" y="519.30" font-size="10.65" text-anchor="middle" fill="#111" stroke="#111" stroke-width="0.22">factor</text>
</g>
</svg>
</body></html>
